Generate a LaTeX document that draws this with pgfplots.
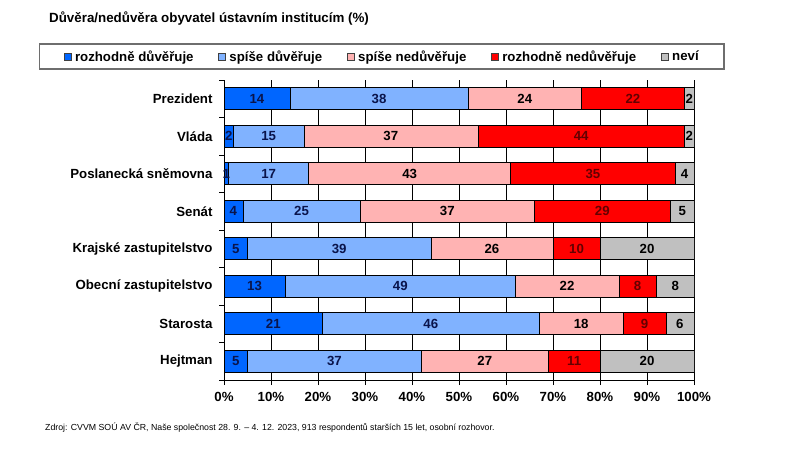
\documentclass[border=0pt]{standalone}
\usepackage{fontspec}
\setmainfont{Liberation Sans}
\usepackage{pgfplots}
\usepackage{pgfplotstable}
\pgfplotsset{compat=1.18}
\definecolor{cdb}{RGB}{0,102,255}
\definecolor{clb}{RGB}{128,178,255}
\definecolor{cpk}{RGB}{255,179,179}
\definecolor{crd}{RGB}{255,0,0}
\definecolor{cgy}{RGB}{192,192,192}
\definecolor{lblred}{RGB}{100,0,0}
\definecolor{lblblue}{RGB}{10,20,75}
\definecolor{legbox}{RGB}{110,110,110}
\pgfplotstableread{
idx rd sd sn rn nv
0 14 38 24 22 2
1 2 15 37 44 2
2 1 17 43 35 4
3 4 25 37 29 5
4 5 39 26 10 20
5 13 49 22 8 8
6 21 46 18 9 6
7 5 37 27 11 20
}\data
\begin{document}
\begin{tikzpicture}
\useasboundingbox[fill=white] (0,0) rectangle (800bp,451bp);
\node[anchor=west, font=\bfseries\fontsize{13.4}{16}\selectfont, inner sep=0pt] at (49bp,432bp) {Důvěra/nedůvěra obyvatel ústavním institucím (\%)};
\node[anchor=west, font=\fontsize{8.8}{10}\selectfont, inner sep=0pt] at (45bp,23bp) {Zdroj: CVVM SOÚ AV ČR, Naše společnost 28. 9. – 4. 12. 2023, 913 respondentů starších 15 let, osobní rozhovor.};
\begin{axis}[
  at={(224bp,71bp)}, anchor=south west,
  scale only axis, width=470bp, height=300bp,
  xbar stacked, bar width=22bp,
  xmin=0, xmax=100, ymin=-0.5, ymax=7.5, y dir=reverse,
  enlargelimits=false,
  axis x line*=bottom, axis y line*=left,
  axis line style={-, black, line width=0.8bp},
  xtick={0,10,...,100},
  xticklabel={\pgfmathprintnumber{\tick}\%},
  /pgf/number format/assume math mode=true,
  ytick={0,...,7},
  yticklabels={Prezident,Vláda,Poslanecká sněmovna,Senát,Krajské zastupitelstvo,Obecní zastupitelstvo,Starosta,Hejtman},
  minor ytick={-0.5,0.5,...,7.5},
  tick align=outside,
  major tick length=5bp, minor tick length=5bp,
  tick style={black, line width=0.8bp},
  major y tick style={draw=none},
  xmajorgrids, major grid style={black, line width=0.6bp},
  ticklabel style={font=\bfseries\fontsize{13.3}{15}\selectfont},
  yticklabel style={xshift=-3bp},
  xticklabel style={yshift=-4bp},
  point meta=rawx,
  nodes near coords={\pgfmathprintnumber{\pgfplotspointmeta}},
  every node near coord/.append style={anchor=center, font=\bfseries\fontsize{13.3}{15}\selectfont, inner sep=0pt},
  legend columns=5,
  legend style={at={(0.336,1.078)}, anchor=center, draw=legbox, line width=1.6bp,
    inner xsep=24bp, inner ysep=5bp,
    font=\bfseries\fontsize{13.3}{15}\selectfont,
    nodes={inner sep=1.5bp},
    /tikz/every odd column/.append style={column sep=2bp},
    /tikz/every even column/.append style={column sep=23bp}},
  legend image code/.code={\draw[#1, line width=0.9bp, draw=black!75] (0bp,-3.5bp) rectangle (7bp,3.5bp);},
]
\addplot[fill=cdb, draw=black, line width=0.6bp, every node near coord/.append style={text=lblblue}] table[x=rd, y=idx]{\data};
\addlegendentry{rozhodně důvěřuje}
\addplot[fill=clb, draw=black, line width=0.6bp, every node near coord/.append style={text=lblblue}] table[x=sd, y=idx]{\data};
\addlegendentry{spíše důvěřuje}
\addplot[fill=cpk, draw=black, line width=0.6bp] table[x=sn, y=idx]{\data};
\addlegendentry{spíše nedůvěřuje}
\addplot[fill=crd, draw=black, line width=0.6bp, every node near coord/.append style={text=lblred}] table[x=rn, y=idx]{\data};
\addlegendentry{rozhodně nedůvěřuje}
\addplot[fill=cgy, draw=black, line width=0.6bp] table[x=nv, y=idx]{\data};
\addlegendentry{neví}
\end{axis}
\end{tikzpicture}
\end{document}
